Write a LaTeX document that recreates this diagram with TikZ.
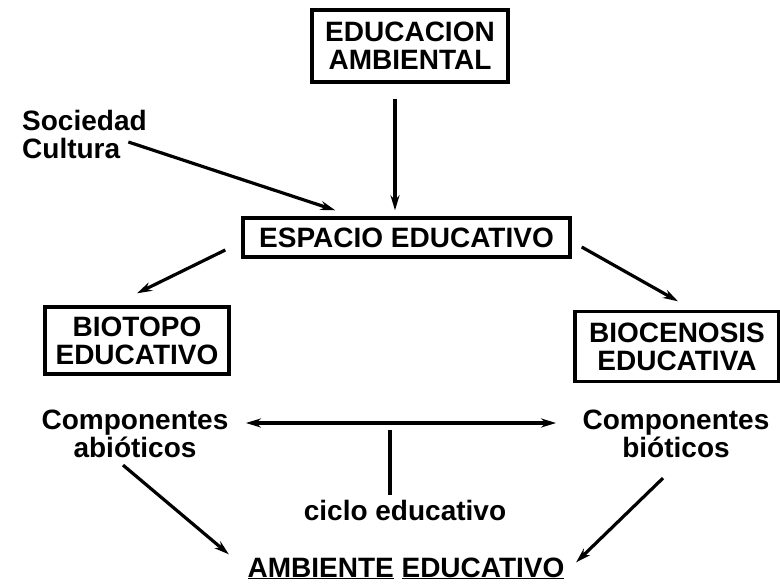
\documentclass[tikz,border=0pt]{standalone}
\usepackage{fontspec}
\setmainfont{Liberation Sans}
\usetikzlibrary{arrows.meta}
\usetikzlibrary{calc}

\begin{document}
\begin{tikzpicture}[x=1pt,y=-1pt,
lbl/.style={font=\fontsize{28}{28}\selectfont\bfseries,inner sep=0pt,align=center},
boxed/.style={lbl,draw,rectangle,line width=3.4pt},
arr/.style={line width=3.2pt,-{Stealth[length=15pt,width=9pt]}},
darr/.style={line width=3.2pt,{Stealth[length=15pt,width=9pt]}-{Stealth[length=15pt,width=9pt]}}]
\useasboundingbox (0,0) rectangle (780,586);

\node[boxed,minimum width=196,minimum height=72] (edu) at (410,46) {EDUCACION\\AMBIENTAL};
\node[lbl,align=left,anchor=west] (soc) at (22,134) {Sociedad\\Cultura};
\node[boxed,minimum width=327,minimum height=39] (esp) at (406.5,237.5) {ESPACIO EDUCATIVO};
\node[boxed,minimum width=184,minimum height=67] (bio) at (137,340.5) {BIOTOPO\\EDUCATIVO};
\node[boxed,minimum width=204,minimum height=70] (bce) at (677,346.5) {BIOCENOSIS\\EDUCATIVA};
\node[lbl] (cab) at (135,434) {Componentes\\abi\'oticos};
\node[lbl] (cbi) at (676,434) {Componentes\\bi\'oticos};
\node[lbl] (ciclo) at (405,510) {ciclo educativo};
\node[lbl,anchor=base] (amb) at (406,577) {\underline{AMBIENTE} \underline{EDUCATIVO}};
\coordinate (cyc) at (390,430);

\draw[arr] ($(edu.south)+(-15,15)$) -- ($(esp.north)+(-11.5,-6)$);
\draw[arr] ($(soc.east)+(-18.5,8)$) -- ($(esp.north west)+(94,-6)$);
\draw[arr] ($(esp.west)+(-16,12.5)$) -- ($(bio.north)+(0,-12)$);
\draw[arr] ($(esp.east)+(10,9.5)$) -- ($(bce.north)+(1,-8.5)$);
\draw[darr] ($(cab.east)+(17.4,-11)$) -- ($(cbi.west)+(-26.4,-11)$);
\draw[line width=3.2pt] (cyc) -- ($(cyc |- ciclo.north)+(0,-5)$);
\draw[arr] ($(cab.south)+(-12,7)$) -- ($(amb.west)+(-18.5,-14)$);
\draw[arr] ($(cbi.south)+(-13,20)$) -- ($(amb.east)+(11.5,-6)$);

\end{tikzpicture}
\end{document}
